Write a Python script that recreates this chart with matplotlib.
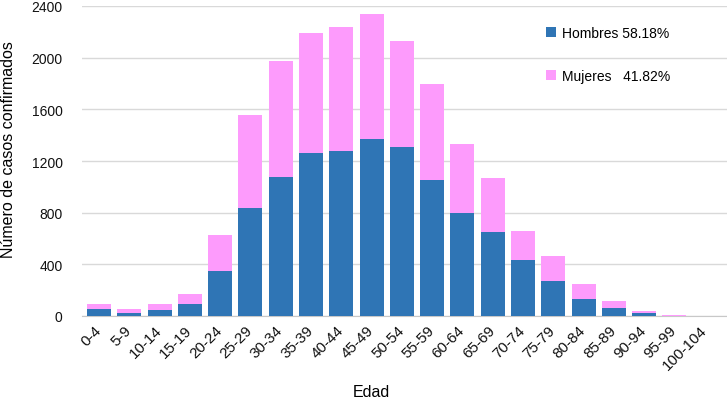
import matplotlib.pyplot as plt
import numpy as np

plt.rcParams['font.family'] = ['Liberation Sans', 'DejaVu Sans']

edades = ['0-4', '5-9', '10-14', '15-19', '20-24', '25-29', '30-34', '35-39',
          '40-44', '45-49', '50-54', '55-59', '60-64', '65-69', '70-74', '75-79',
          '80-84', '85-89', '90-94', '95-99', '100-104']
hombres = [52, 26, 44, 93, 348, 836, 1074, 1260, 1278, 1373, 1306, 1051,
           800, 650, 434, 269, 132, 62, 23, 3, 0]
totales = [90, 57, 90, 170, 625, 1559, 1974, 2194, 2240, 2336, 2129, 1794,
           1332, 1068, 656, 462, 245, 114, 39, 8, 1]
mujeres = [t - h for t, h in zip(totales, hombres)]

azul = '#2F75B5'
rosa = '#FD9BFC'

fig = plt.figure(figsize=(7.27, 4.02), dpi=100)
ax = fig.add_axes([82 / 727, 1 - 317 / 402, 650 / 727, 310 / 402])

x = np.arange(len(edades))
ax.bar(x, hombres, width=0.79, color=azul, label='Hombres 58.18%', zorder=3)
ax.bar(x, mujeres, width=0.79, bottom=hombres, color=rosa,
       label='Mujeres   41.82%', zorder=3)

ax.set_ylim(0, 2400)
ax.set_xlim(-0.56, 20.9)
ax.set_yticks(np.arange(0, 2401, 400))
ax.set_xticks(x)
ax.set_xticklabels(edades, rotation=45, ha='right', va='center',
                   rotation_mode='anchor', fontsize=11)
ax.tick_params(axis='both', length=0, colors='#111111')
ax.tick_params(axis='y', pad=14, labelsize=10)
ax.tick_params(axis='x', pad=8.5)

ax.grid(axis='y', color='#D9D9D9', linewidth=1, zorder=0)
for s in ['top', 'right', 'left']:
    ax.spines[s].set_visible(False)
ax.spines['bottom'].set_color('#C8C8C8')

ax.set_ylabel('Número de casos confirmados', fontsize=11.5)
ax.yaxis.set_label_coords(-66 / 650, 0.54)
ax.set_xlabel('Edad', fontsize=11.5)
ax.xaxis.set_label_coords(289 / 650, -68 / 310)

ax.legend(loc='upper left', bbox_to_anchor=(546 / 727, 1 - 27 / 402),
          bbox_transform=fig.transFigure, frameon=False, fontsize=10,
          handlelength=0.72, handleheight=0.72, handletextpad=0.4,
          labelspacing=2.1, borderpad=0, borderaxespad=0)

fig.savefig('out.png', dpi=100)
